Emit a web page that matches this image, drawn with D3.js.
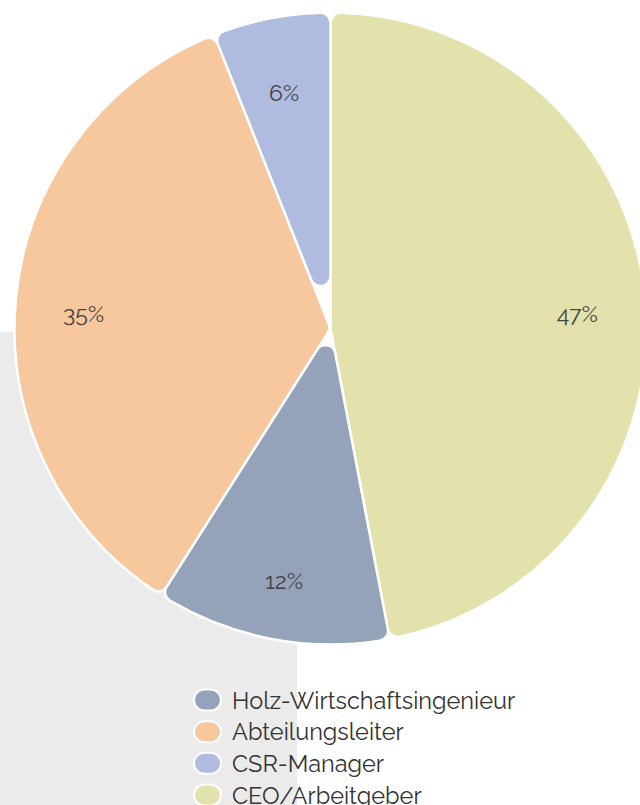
<!DOCTYPE html>
<html>
<head>
<meta charset="utf-8">
<script src="https://cdn.jsdelivr.net/npm/d3@7"></script>
<style>
  html, body { margin: 0; padding: 0; background: #fff; }
  svg { display: block; }
</style>
</head>
<body>
<script>
// Slices in drawing order (clockwise from 12 o'clock)
const categories = ["CEO/Arbeitgeber", "Holz-Wirtschaftsingenieur", "Abteilungsleiter", "CSR-Manager"];
const shares = [47, 12, 35, 6];
const sliceColors = ["#e3e2ad", "#94a3b9", "#f7c89e", "#b0bcdf"];
// Legend order
const legendItems = ["Holz-Wirtschaftsingenieur", "Abteilungsleiter", "CSR-Manager", "CEO/Arbeitgeber"];

const W = 640, H = 805;
const cx = 330.5, cy = 328.5, R = 316, rc = 10;
const labelRadius = 248;
const fontStack = "Raleway, Lato, 'Open Sans', sans-serif";

const svg = d3.select("body").append("svg")
  .attr("width", W).attr("height", H);

// light grey panel behind the lower-left part
svg.append("rect")
  .attr("x", 0).attr("y", 332).attr("width", 297).attr("height", H - 332)
  .attr("fill", "#ebebeb");

const color = d3.scaleOrdinal().domain(categories).range(sliceColors);

const data = categories.map((c, i) => ({ name: c, value: shares[i] }));
const arcs = d3.pie().sort(null).value(d => d.value)(data);

// polar helper: angle clockwise from top
const pt = (a, r) => [r * Math.sin(a), -r * Math.cos(a)];

// Pie sector with all three corners rounded (including the tip at the centre)
function roundedSector(a0, a1) {
  const ha = (a1 - a0) / 2;
  const d0 = rc / Math.sin(ha);
  const t = d0 * Math.cos(ha);
  const delta = Math.asin(rc / (R - rc));
  const te = (R - rc) * Math.cos(delta);

  const s0 = pt(a0, t), s1 = pt(a1, t);
  const e0 = pt(a0, te), o0 = pt(a0 + delta, R);
  const o1 = pt(a1 - delta, R), e1 = pt(a1, te);

  let s = `M${s0[0]},${s0[1]}`;
  s += `L${e0[0]},${e0[1]}`;
  s += `A${rc},${rc} 0 0 1 ${o0[0]},${o0[1]}`;
  const large = (a1 - a0 - 2 * delta) > Math.PI ? 1 : 0;
  s += `A${R},${R} 0 ${large} 1 ${o1[0]},${o1[1]}`;
  s += `A${rc},${rc} 0 0 1 ${e1[0]},${e1[1]}`;
  s += `L${s1[0]},${s1[1]}`;
  s += `A${rc},${rc} 0 0 1 ${s0[0]},${s0[1]}`;
  s += "Z";
  return s;
}

const g = svg.append("g").attr("transform", `translate(${cx},${cy})`);

g.selectAll("path.slice")
  .data(arcs)
  .join("path")
  .attr("class", "slice")
  .attr("d", d => roundedSector(d.startAngle, d.endAngle))
  .attr("fill", d => color(d.data.name))
  .attr("stroke", "#fff")
  .attr("stroke-width", 2.5)
  .attr("stroke-linejoin", "round");

const labelArc = d3.arc().innerRadius(labelRadius).outerRadius(labelRadius);

g.selectAll("text.pct")
  .data(arcs)
  .join("text")
  .attr("class", "pct")
  .attr("transform", d => {
    const c = labelArc.centroid(d);
    return `translate(${c[0]},${c[1] + 8})`;
  })
  .attr("text-anchor", "middle")
  .attr("dominant-baseline", "central")
  .attr("font-family", fontStack)
  .attr("font-size", 23)
  .attr("fill", "#444")
  .text(d => d.data.value + "%");

// Legend
const legendY = d3.scalePoint().domain(legendItems).range([700, 795]);

const lg = svg.append("g");
const item = lg.selectAll("g.item")
  .data(legendItems)
  .join("g")
  .attr("class", "item")
  .attr("transform", d => `translate(0,${legendY(d)})`);

item.append("rect")
  .attr("x", 194).attr("y", -10.5)
  .attr("width", 27).attr("height", 21)
  .attr("rx", 10.5).attr("ry", 10.5)
  .attr("fill", d => color(d))
  .attr("stroke", "#fff")
  .attr("stroke-width", 2);

item.append("text")
  .attr("x", 232)
  .attr("y", 0)
  .attr("dominant-baseline", "central")
  .attr("font-family", fontStack)
  .attr("font-size", 23.5)
  .attr("fill", "#333")
  .text(d => d);
</script>
</body>
</html>
